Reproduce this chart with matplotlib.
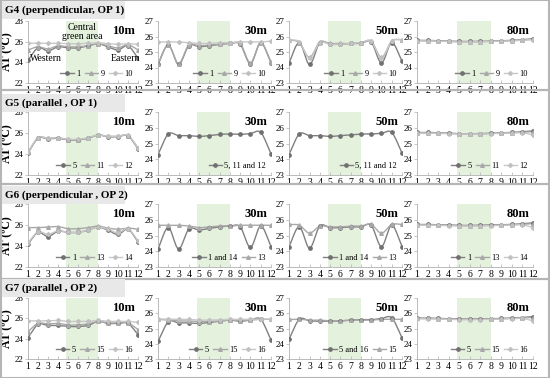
"""Air temperature (AT) along receptor points 1-12 for cases G4-G7 at four heights."""
import numpy as np
import matplotlib
matplotlib.use('Agg')
import matplotlib.pyplot as plt
from matplotlib.patches import Rectangle

plt.rcParams.update({
    'font.family': ['Liberation Serif', 'DejaVu Serif'],
    'font.size': 6,
    'axes.linewidth': 0.6,
})

points = list(range(1, 12 + 1))
heights = ['10m', '30m', '50m', '80m']

# ---------------------------------------------------------------------------
# Values (deg C)
# ---------------------------------------------------------------------------
g4_10m = {
    '1':  [24.2, 25.4, 25.1, 25.5, 25.4, 25.4, 25.6, 25.8, 25.5, 25.2, 25.6, 24.4],
    '9':  [25.2, 25.5, 25.3, 25.6, 25.5, 25.5, 25.6, 25.8, 25.6, 25.4, 25.7, 25.2],
    '10': [25.85, 25.85, 25.85, 25.85, 25.8, 25.8, 25.85, 25.9, 25.8, 25.75, 25.8, 25.75],
}
g4_30m = {
    '1':  [24.2, 25.45, 24.2, 25.4, 25.35, 25.4, 25.5, 25.55, 25.5, 24.25, 25.6, 24.3],
    '9':  [24.25, 25.45, 24.25, 25.45, 25.4, 25.45, 25.5, 25.55, 25.55, 24.3, 25.6, 24.35],
    '10': [25.65, 25.65, 25.65, 25.6, 25.55, 25.55, 25.6, 25.6, 25.65, 25.65, 25.65, 25.7],
}
g4_50m = {
    '1':  [24.3, 25.6, 24.2, 25.6, 25.5, 25.5, 25.55, 25.55, 25.65, 24.3, 25.6, 24.4],
    '9':  [25.8, 25.6, 24.65, 25.65, 25.55, 25.55, 25.55, 25.6, 25.7, 24.65, 25.7, 25.8],
    '10': [25.8, 25.65, 24.6, 25.6, 25.5, 25.5, 25.55, 25.6, 25.7, 24.6, 25.7, 25.8],
}
g4_80m = {
    '1':  [25.75, 25.75, 25.72, 25.7, 25.68, 25.68, 25.68, 25.7, 25.72, 25.75, 25.8, 25.85],
    '9':  [25.73, 25.73, 25.7, 25.68, 25.66, 25.66, 25.67, 25.68, 25.7, 25.73, 25.78, 25.82],
    '10': [25.72, 25.72, 25.7, 25.68, 25.65, 25.65, 25.66, 25.68, 25.7, 25.72, 25.76, 25.8],
}

g5_10m = {
    '5':  [24.1, 25.5, 25.45, 25.5, 25.35, 25.35, 25.5, 25.8, 25.65, 25.65, 25.75, 24.5],
    '11': [24.15, 25.55, 25.5, 25.52, 25.38, 25.38, 25.52, 25.8, 25.68, 25.68, 25.75, 24.55],
    '12': [24.2, 25.55, 25.5, 25.55, 25.4, 25.4, 25.55, 25.82, 25.7, 25.7, 25.78, 24.6],
}
g5_30m = {
    '5, 11 and 12': [24.3, 25.6, 25.5, 25.5, 25.45, 25.5, 25.58, 25.6, 25.58, 25.63, 25.7, 24.35],
}
g5_50m = {
    '5, 11 and 12': [24.3, 25.6, 25.5, 25.5, 25.45, 25.5, 25.55, 25.6, 25.6, 25.65, 25.7, 24.4],
}
g5_80m = {
    '5':  [25.7, 25.7, 25.68, 25.65, 25.62, 25.62, 25.63, 25.65, 25.68, 25.7, 25.75, 25.8],
    '11': [25.68, 25.68, 25.66, 25.64, 25.62, 25.62, 25.62, 25.64, 25.66, 25.68, 25.72, 25.75],
    '12': [25.66, 25.66, 25.64, 25.62, 25.6, 25.6, 25.6, 25.62, 25.64, 25.66, 25.68, 25.55],
}

g6_10m = {
    '1':  [24.2, 25.3, 24.9, 25.4, 25.3, 25.3, 25.5, 25.8, 25.5, 25.1, 25.6, 24.4],
    '13': [25.75, 25.75, 25.8, 25.85, 25.65, 25.65, 25.75, 25.9, 25.7, 25.6, 25.7, 25.6],
    '14': [24.3, 25.35, 25.1, 25.45, 25.3, 25.3, 25.5, 25.8, 25.6, 25.25, 25.65, 24.5],
}
g6_30m = {
    '1 and 14': [24.15, 25.5, 24.15, 25.4, 25.35, 25.45, 25.55, 25.6, 25.55, 24.25, 25.6, 24.3],
    '13':       [25.65, 25.65, 25.65, 25.6, 25.5, 25.55, 25.6, 25.6, 25.65, 25.65, 25.65, 25.65],
}
g6_50m = {
    '1 and 14': [24.3, 25.55, 24.2, 25.6, 25.5, 25.5, 25.55, 25.55, 25.65, 24.3, 25.65, 24.3],
    '13':       [25.7, 25.65, 25.15, 25.6, 25.55, 25.55, 25.6, 25.6, 25.7, 25.15, 25.7, 25.7],
}
g6_80m = {
    '1':  [25.7, 25.7, 25.68, 25.66, 25.64, 25.64, 25.65, 25.66, 25.68, 25.7, 25.75, 25.8],
    '13': [25.68, 25.68, 25.66, 25.64, 25.62, 25.62, 25.63, 25.64, 25.66, 25.68, 25.72, 25.75],
    '14': [25.66, 25.66, 25.64, 25.62, 25.6, 25.6, 25.61, 25.62, 25.64, 25.66, 25.68, 25.5],
}

g7_10m = {
    '5':  [24.1, 25.4, 25.3, 25.3, 25.2, 25.2, 25.3, 25.7, 25.5, 25.5, 25.5, 24.4],
    '15': [24.7, 25.5, 25.45, 25.5, 25.35, 25.35, 25.45, 25.7, 25.55, 25.55, 25.55, 24.9],
    '16': [25.75, 25.75, 25.75, 25.8, 25.7, 25.7, 25.7, 25.8, 25.7, 25.7, 25.7, 25.6],
}
g7_30m = {
    '5':  [24.15, 25.43, 25.37, 25.37, 25.33, 25.4, 25.48, 25.55, 25.48, 25.55, 25.6, 24.25],
    '15': [25.6, 25.55, 25.5, 25.5, 25.45, 25.45, 25.5, 25.55, 25.5, 25.55, 25.6, 25.6],
    '16': [25.62, 25.62, 25.6, 25.6, 25.55, 25.55, 25.58, 25.6, 25.6, 25.6, 25.62, 25.62],
}
g7_50m = {
    '5 and 16': [24.3, 25.6, 25.5, 25.48, 25.48, 25.5, 25.55, 25.58, 25.58, 25.65, 25.7, 24.4],
    '15':       [25.6, 25.6, 25.55, 25.55, 25.5, 25.5, 25.55, 25.55, 25.55, 25.6, 25.6, 25.6],
}
g7_80m = {
    '5':  [25.68, 25.68, 25.66, 25.64, 25.62, 25.62, 25.63, 25.64, 25.66, 25.68, 25.72, 25.78],
    '15': [25.66, 25.66, 25.64, 25.62, 25.6, 25.6, 25.61, 25.62, 25.64, 25.66, 25.7, 25.72],
    '16': [25.64, 25.64, 25.62, 25.6, 25.58, 25.58, 25.59, 25.6, 25.62, 25.64, 25.66, 25.5],
}

row_titles = ['G4 (perpendicular, OP 1)', 'G5 (parallel , OP 1)',
              'G6 (perpendicular , OP 2)', 'G7 (parallel , OP 2)']
rows = [
    [g4_10m, g4_30m, g4_50m, g4_80m],
    [g5_10m, g5_30m, g5_50m, g5_80m],
    [g6_10m, g6_30m, g6_50m, g6_80m],
    [g7_10m, g7_30m, g7_50m, g7_80m],
]
green_span = (4.75, 8.0)

# series styles (order within each panel)
styles = [
    dict(color='#808080', marker='o', ms=2.4, mfc='#707070', mec='#707070'),
    dict(color='#a8a8a8', marker='^', ms=2.6, mfc='#a8a8a8', mec='#a8a8a8'),
    dict(color='#c8c8c8', marker='D', ms=2.0, mfc='#c0c0c0', mec='#c0c0c0'),
]


def smooth(x, y, n=20):
    """Excel-like smoothed line through the points (cubic Hermite)."""
    x = np.asarray(x, float)
    y = np.asarray(y, float)
    m = np.gradient(y, x)
    xs, ys = [], []
    for i in range(len(x) - 1):
        t = np.linspace(0, 1, n, endpoint=False)
        h = x[i + 1] - x[i]
        h00 = 2 * t**3 - 3 * t**2 + 1
        h10 = t**3 - 2 * t**2 + t
        h01 = -2 * t**3 + 3 * t**2
        h11 = t**3 - t**2
        xs.append(x[i] + t * h)
        ys.append(h00 * y[i] + h10 * h * m[i] + h01 * y[i + 1] + h11 * h * m[i + 1])
    xs.append([x[-1]])
    ys.append([y[-1]])
    return np.concatenate(xs), np.concatenate(ys)


W, H = 550, 378
fig = plt.figure(figsize=(W / 100, H / 100), dpi=100)

col_left = [28, 158, 289, 417]
col_right = [138, 271, 402, 533]
row_top = [21, 112, 204, 298]
row_bot = [83, 175, 267, 359]
row_box = [(0, 90), (90, 184), (184, 279), (279, 378)]
head_y = [10, 103, 195, 288]

# row frames and header label boxes
for r in range(4):
    y0, y1 = row_box[r]
    fig.patches.append(Rectangle((1 / W, 1 - y1 / H), (W - 2) / W, (y1 - y0) / H,
                                 transform=fig.transFigure, fill=False,
                                 edgecolor='#b5b5b5', lw=1.5, zorder=0))
    fig.patches.append(Rectangle((2 / W, 1 - (head_y[r] + 9) / H), 123 / W, 18 / H,
                                 transform=fig.transFigure, facecolor='#e8e8e8',
                                 edgecolor='none', zorder=0))
    fig.text(5 / W, 1 - head_y[r] / H, row_titles[r], fontsize=8,
             fontweight='bold', va='center', ha='left')

for r, panels in enumerate(rows):
    for c, data in enumerate(panels):
        ax = fig.add_axes([col_left[c] / W, 1 - row_bot[r] / H,
                           (col_right[c] - col_left[c]) / W,
                           (row_bot[r] - row_top[r]) / H])
        ax.axvspan(*green_span, color='#e4f1dc', lw=0, zorder=0)
        for k, (lab, vals) in enumerate(data.items()):
            st = styles[k]
            xs, ys = smooth(points, vals)
            ax.plot(xs, ys, color=st['color'], lw=1.0, zorder=2)
            ax.plot(points, vals, ls='none', marker=st['marker'], ms=st['ms'],
                    mfc=st['mfc'], mec=st['mec'], zorder=3)
            ax.plot([], [], color=st['color'], lw=1.0, marker=st['marker'],
                    ms=st['ms'], mfc=st['mfc'], mec=st['mec'], label=lab)
        ax.set_xlim(1, 12)
        if c == 0:
            ax.set_ylim(22, 28)
            ax.set_yticks([22, 24, 26, 28])
            ax.set_ylabel('AT (ºC)', fontsize=8.5, fontweight='bold', labelpad=1)
        else:
            ax.set_ylim(23, 27)
            ax.set_yticks([23, 24, 25, 26, 27])
        ax.set_xticks(points)
        for s in ('top', 'right'):
            ax.spines[s].set_visible(False)
        for s in ('left', 'bottom'):
            ax.spines[s].set_color('#b0b0b0')
        ax.tick_params(axis='x', direction='in', length=2, width=0.5,
                       color='#b0b0b0', pad=2, labelsize=7)
        ax.tick_params(axis='y', direction='out', length=2, width=0.5,
                       color='#b0b0b0', pad=1, labelsize=6.5)
        ax.text(0.97, 0.93, heights[c], transform=ax.transAxes, ha='right',
                va='top', fontsize=9, fontweight='bold')
        ax.legend(loc='lower right', ncol=len(data), frameon=False, fontsize=6,
                  handlelength=1.6, handletextpad=0.3, columnspacing=0.5,
                  borderaxespad=0.2)
        if r == 0 and c == 0:
            ax.text(6.4, 27.8, 'Central\ngreen area', ha='center', va='top',
                    fontsize=7, linespacing=1.0)
            ax.text(1.2, 24.35, 'Western', ha='left', va='center', fontsize=7)
            ax.text(9.3, 24.35, 'Eastern', ha='left', va='center', fontsize=7)

fig.savefig('out.png', dpi=100)
